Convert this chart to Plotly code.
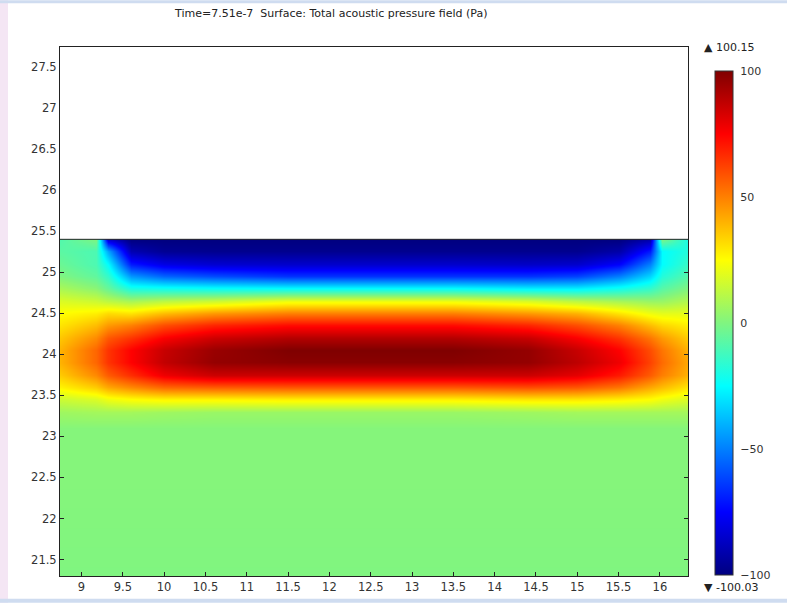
import plotly.graph_objects as go

# ---- data ----
x_coords = [8.74, 9.18, 9.32, 9.6, 10.0, 10.6, 11.5, 12.5, 13.5, 14.4, 15.0, 15.5, 15.88, 16.03, 16.34]
y_coords = [21.3, 22.5, 23.1, 23.3, 23.45, 23.6, 23.75, 23.9, 24.05, 24.2, 24.35, 24.5, 24.65, 24.8, 24.95, 25.1, 25.25, 25.4]
pressure = [
    [0, 0, 0, 0, 0, 0, 0, 0, 0, 0, 0, 0, 0, 0, 0],
    [1, 1, 1, 1, 1, 1, 1, 1, 1, 1, 1, 1, 1, 1, 1],
    [1, 1, 1, 1, 1, 1, 1, 1, 1, 1, 1, 1, 1, 1, 1],
    [6, 7, 7, 7, 6, 5, 5, 5, 5, 6, 7, 7, 7, 7, 7],
    [15, 18, 22, 25, 27, 27, 28, 28, 28, 30, 30, 28, 25, 22, 18],
    [27, 35, 42, 48, 55, 57, 58, 58, 58, 60, 58, 52, 42, 38, 30],
    [35, 48, 57, 66, 78, 85, 85, 85, 85, 85, 80, 70, 57, 50, 40],
    [40, 55, 65, 75, 87, 96, 98, 98, 98, 96, 88, 78, 62, 54, 42],
    [40, 55, 65, 75, 86, 95, 100, 100, 100, 96, 86, 75, 60, 52, 40],
    [36, 48, 58, 65, 76, 85, 90, 90, 90, 86, 76, 65, 52, 45, 35],
    [30, 38, 45, 50, 60, 68, 73, 73, 73, 68, 60, 50, 38, 33, 28],
    [25, 28, 32, 30, 38, 45, 50, 50, 50, 45, 40, 30, 22, 20, 20],
    [18, 15, 12, 8, 12, 15, 22, 22, 22, 18, 12, 8, 5, 5, 10],
    [8, 2, -5, -20, -22, -24, -25, -25, -25, -28, -28, -22, -15, -8, 0],
    [0, -6, -15, -45, -55, -60, -65, -65, -65, -65, -62, -50, -33, -18, -8],
    [-4, -10, -25, -70, -80, -84, -85, -85, -85, -86, -85, -75, -50, -25, -14],
    [-7, -10, -42, -90, -96, -97, -97, -97, -97, -97, -97, -92, -70, -25, -18],
    [-9, 0, -85, -100, -100, -100, -100, -100, -100, -100, -100, -100, -92, 0, -20],
]
surface_top = 25.4
x_range = [8.74, 16.34]
y_range = [21.30, 27.742]
x_ticks = [9, 9.5, 10, 10.5, 11, 11.5, 12, 12.5, 13, 13.5, 14, 14.5, 15, 15.5, 16]
y_ticks = [21.5, 22, 22.5, 23, 23.5, 24, 24.5, 25, 25.5, 26, 26.5, 27, 27.5]
cbar_ticks = [-100, -50, 0, 50, 100]
title_text = "Time=7.51e-7  Surface: Total acoustic pressure field (Pa)"
max_text = "▲ 100.15"
min_text = "▼ -100.03"

jet = [
    [0.0, "rgb(0,0,128)"],
    [0.125, "rgb(0,0,255)"],
    [0.375, "rgb(0,255,255)"],
    [0.5, "rgb(128,245,128)"],
    [0.625, "rgb(255,255,0)"],
    [0.875, "rgb(255,0,0)"],
    [1.0, "rgb(128,0,0)"],
]

FONT = "DejaVu Sans"
TXT = "#333333"

# pixel layout helpers
L, R, T, B = 60, 99, 47, 27
W, H = 787, 606
PW, PH = W - L - R, H - T - B


def px(xp):
    return (xp - L) / PW


def py(yp):
    return (H - B - yp) / PH


fig = go.Figure()
fig.add_trace(go.Heatmap(
    x=x_coords, y=y_coords, z=pressure,
    zsmooth="best", colorscale=jet, zmin=-100, zmax=100,
    colorbar=dict(
        x=px(715), xanchor="left", xpad=0,
        y=py(325), yanchor="middle", ypad=0,
        len=504, lenmode="pixels", thickness=18,
        outlinewidth=1, outlinecolor="#333333",
        tickvals=cbar_ticks, ticks="outside", ticklen=5, tickcolor="rgba(0,0,0,0)",
        tickfont=dict(family=FONT, size=11, color=TXT),
    ),
    hoverinfo="skip",
))

# white area above the fluid surface + surface line
fig.add_shape(type="rect", xref="x", yref="y", x0=x_range[0], x1=x_range[1],
              y0=surface_top, y1=y_range[1] + 1, fillcolor="white", line_width=0, layer="above")
fig.add_shape(type="line", xref="x", yref="y", x0=x_range[0], x1=x_range[1],
              y0=surface_top, y1=surface_top, line=dict(color="#222222", width=1), layer="above")

# screenshot border strips
fig.add_shape(type="rect", xref="paper", yref="paper", x0=px(0), x1=px(8), y0=py(606), y1=py(0),
              fillcolor="#f4e6f4", line_width=0, layer="below")
fig.add_shape(type="rect", xref="paper", yref="paper", x0=px(0), x1=px(787), y0=py(3), y1=py(0),
              fillcolor="#cfdcf0", line_width=0, layer="below")
fig.add_shape(type="rect", xref="paper", yref="paper", x0=px(0), x1=px(787), y0=py(606), y1=py(602),
              fillcolor="#cfdcf0", line_width=0, layer="below")

fig.add_annotation(text=title_text, xref="paper", yref="paper", x=px(331), y=py(13),
                   showarrow=False, xanchor="center", yanchor="middle",
                   font=dict(family=FONT, size=11, color="#222222"))
fig.add_annotation(text=max_text, xref="paper", yref="paper", x=px(702), y=py(47),
                   showarrow=False, xanchor="left", yanchor="middle",
                   font=dict(family=FONT, size=11, color="#222222"))
fig.add_annotation(text=min_text, xref="paper", yref="paper", x=px(702), y=py(591),
                   showarrow=False, xanchor="left", yanchor="middle",
                   font=dict(family=FONT, size=11, color="#222222"))

axis_common = dict(
    showgrid=False, zeroline=False, showline=True, linecolor="#222222", linewidth=1,
    mirror="allticks", ticks="inside", ticklen=4, tickcolor="#222222",
    tickfont=dict(family=FONT, size=11.5, color=TXT),
)
fig.update_xaxes(range=x_range, tickvals=x_ticks, **axis_common)
fig.update_yaxes(range=y_range, tickvals=y_ticks, **axis_common)

fig.update_layout(
    width=W, height=H,
    margin=dict(l=L, r=R, t=T, b=B),
    paper_bgcolor="white", plot_bgcolor="white",
    showlegend=False,
)

fig.write_html("out.html")
